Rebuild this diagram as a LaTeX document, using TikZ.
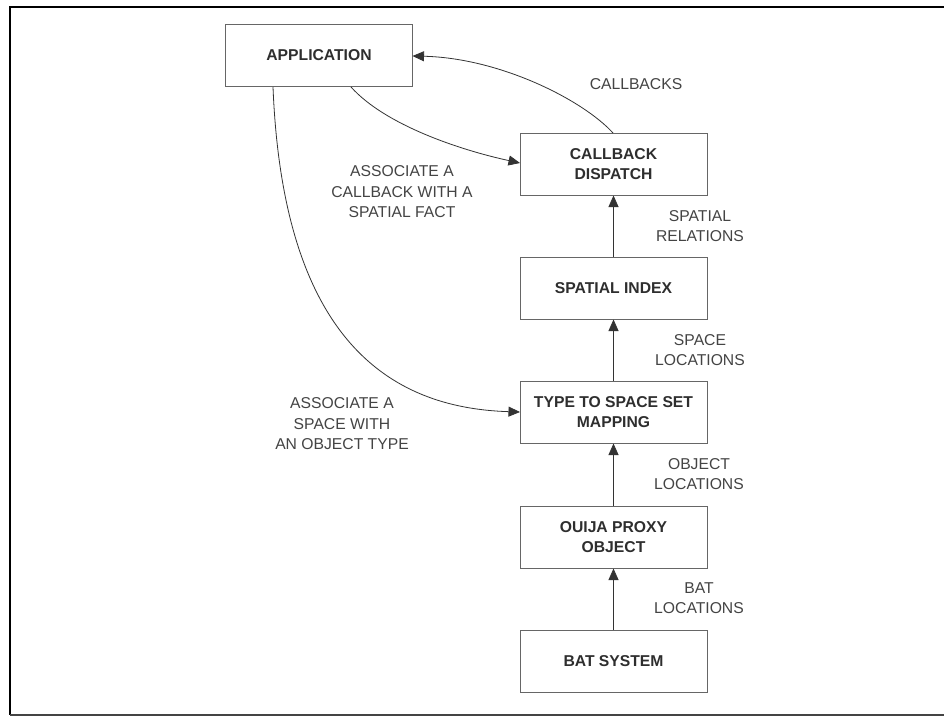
\documentclass[tikz,border=0pt]{standalone}
\usepackage{fontspec}
\setmainfont{Liberation Sans}
\usetikzlibrary{arrows.meta}
\definecolor{boxline}{HTML}{666666}
\definecolor{boxtext}{HTML}{2E2E2E}
\definecolor{labtext}{HTML}{444444}
\definecolor{conn}{HTML}{333333}
\tikzset{
  block/.style={draw=boxline, line width=1pt, minimum width=187pt, minimum height=62pt,
    inner sep=0pt, align=center, text=boxtext, font=\fontsize{15.7}{20.5}\selectfont\bfseries},
  lab/.style={align=center, text=labtext, inner sep=0pt, font=\fontsize{15.7}{20.5}\selectfont},
  conn/.style={draw=conn, line width=0.8pt, -{Triangle[length=11.5pt,width=10pt]}},
}
\begin{document}
\begin{tikzpicture}[x=1pt,y=-1pt]
\useasboundingbox (0,0) rectangle (944,717);
\fill[white] (0,0) rectangle (944,717);
% frame
\draw[black, line width=2pt] (950,7) -- (9.5,7) -- (9.5,715);
\draw[labtext, line width=1.5pt] (9.5,715) -- (950,715);

\node[block] (app) at (319,55.5) {APPLICATION};
\node[block] (cbd) at (613.5,164) {CALLBACK\\DISPATCH};
\node[block] (spi) at (613.5,288) {SPATIAL INDEX};
\node[block] (tts) at (613.5,412) {TYPE TO SPACE SET\\MAPPING};
\node[block] (oui) at (613.5,537) {OUIJA PROXY\\OBJECT};
\node[block] (bat) at (613.5,661) {BAT SYSTEM};

\draw[conn] (bat) -- (oui);
\draw[conn] (oui) -- (tts);
\draw[conn] (tts) -- (spi);
\draw[conn] (spi) -- (cbd);

\coordinate (cbdtop) at (613,133);
\coordinate (appright) at (412.5,56);
\draw[conn] (cbdtop) .. controls (583,100) and (500,58) .. (appright);

\coordinate (appb1) at (351,87);
\coordinate (cbdleft) at (520,163);
\draw[conn] (appb1) .. controls (385,125) and (460,150) .. (cbdleft);

\coordinate (appb2) at (273,87);
\coordinate (ttsleft) at (520,412);
\draw[conn] (appb2) .. controls (283,338) and (388,408) .. (ttsleft);

\node[lab] (l1) at (636,84) {CALLBACKS};
\node[lab] (l2) at (402,192) {ASSOCIATE A\\CALLBACK WITH A\\SPATIAL FACT};
\node[lab] (l3) at (700,226) {SPATIAL\\RELATIONS};
\node[lab] (l4) at (700,350) {SPACE\\LOCATIONS};
\node[lab] (l5) at (699,474) {OBJECT\\LOCATIONS};
\node[lab] (l6) at (699,598) {BAT\\LOCATIONS};
\node[lab] (l7) at (342,424) {ASSOCIATE A\\SPACE WITH\\AN OBJECT TYPE};
\end{tikzpicture}
\end{document}
